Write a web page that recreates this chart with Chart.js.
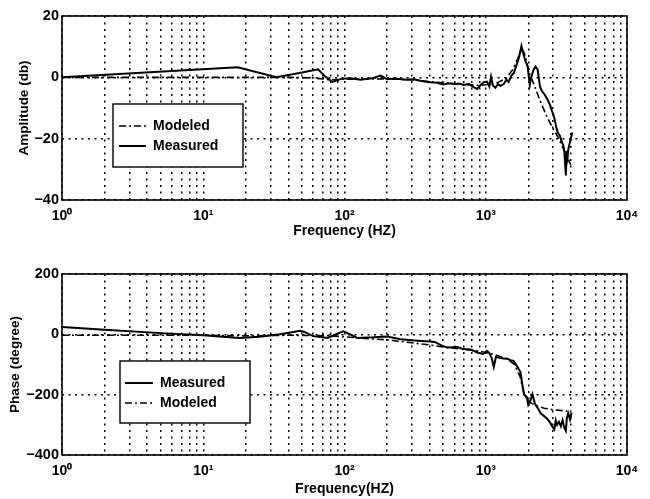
<!DOCTYPE html>
<html>
<head>
<meta charset="utf-8">
<script src="https://cdn.jsdelivr.net/npm/chart.js@4.4.0/dist/chart.umd.min.js"></script>
<style>
	body { margin: 0; background: #fff; }
	#wrap { position: relative; width: 650px; height: 499px; }
	canvas { position: absolute; left: 0; }
</style>
</head>
<body>
<div id="wrap">
	<canvas id="amp" width="650" height="250" style="top: 0"></canvas>
	<canvas id="phase" width="650" height="249" style="top: 250px"></canvas>
</div>
<script>
// x ticks: every 1..9 step of each decade (grid), labels only on powers of ten
const xTickValues = [1, 2, 3, 4, 5, 6, 7, 8, 9, 10, 20, 30, 40, 50, 60, 70, 80, 90,
	100, 200, 300, 400, 500, 600, 700, 800, 900, 1000, 2000, 3000, 4000, 5000, 6000, 7000, 8000, 9000, 10000];
const ampTicks = [-40, -20, 0, 20];
const phaseTicks = [-400, -200, 0, 200];

// amplitude (db)
const ampMeasuredFreq = [1, 17.5, 33, 50, 65, 72, 82, 95, 110, 130, 160, 180, 200, 230, 270, 310, 350, 400, 450, 500,
	550, 600, 650, 700, 760, 820, 870, 920, 970, 1020, 1060, 1090, 1120, 1170, 1220, 1270, 1340, 1400, 1450, 1520,
	1580, 1650, 1720, 1790, 1850, 1920, 1980, 2050, 2100, 2180, 2250, 2330, 2420, 2500, 2600, 2720, 2850, 2960, 3050, 3150,
	3230, 3350, 3450, 3530, 3600, 3690, 3740, 3800, 3840, 3950, 4100];
const ampMeasured = [0, 3.3, 0, 1.6, 2.6, 0.5, -1.5, -0.5, -0.3, -0.8, -0.2, 0.6, -0.6, -0.4, -0.8, -0.6, -1.2, -1.6, -1.8, -2.3,
	-1.9, -2.2, -2.0, -2.5, -2.1, -3.2, -3.8, -2.5, -1.6, -1.4, -3, 0.2, -2.6, -3.4, -2.2, -2.8, -2.2, -0.8, -1.5, 0.6,
	1.4, 4, 6.5, 10.2, 7.5, 5, 3.5, -2.5, 0, 2.5, 3.5, 2.5, -3, -4.5, -5.5, -7, -9, -11.3, -13, -16,
	-18, -19, -21, -22, -24, -32, -24, -26, -23.5, -21, -18];
const ampModeledFreq = [1, 40, 60, 80, 100, 200, 300, 500, 700, 900, 1000, 1200, 1400, 1550, 1700, 1800, 1870, 1950, 2050, 2200,
	2440, 2720, 2960, 3270, 3600, 4000];
const ampModeled = [0, 0, -0.2, -0.8, -0.6, -0.5, -0.8, -1.8, -2.4, -2.6, -2.4, -1.8, -0.3, 2.5, 6.5, 9.3, 8, 5, 1, -2.4,
	-8, -13, -16.3, -19.7, -24, -28.5];

// phase (degree)
const phaseMeasuredFreq = [1, 2, 5, 10, 18, 25, 35, 48.7, 52, 60, 70, 76, 85, 98, 110, 123, 160, 200, 250, 300,
	350, 405, 440, 480, 535, 630, 695, 780, 870, 960, 1020, 1060, 1100, 1140, 1180, 1250, 1330, 1430, 1500, 1570,
	1680, 1760, 1820, 1870, 1950, 2000, 2070, 2140, 2230, 2320, 2450, 2600, 2720, 2850, 2960, 3060, 3130, 3200, 3300, 3400,
	3500, 3600, 3690, 3750, 3840, 3950, 4050];
const phaseMeasured = [24, 15, 4, -3, -12, -8, 0, 12, 8, -6, -10, -12, -2, 10, 0, -12, -10, -7, -16, -20,
	-22, -24, -26, -36, -44, -42, -49, -50, -60, -65, -55, -62, -78, -108, -75, -78, -80, -81, -86, -88,
	-108, -125, -169, -200, -207, -234, -220, -198, -230, -242, -262, -272, -280, -292, -305, -315, -285, -300, -290, -305,
	-285, -310, -320, -278, -262, -282, -260];
const phaseModeledFreq = [1, 10, 20, 40, 60, 80, 100, 150, 200, 300, 400, 500, 700, 900, 1000, 1200, 1400, 1600, 1750, 1850,
	1950, 2100, 2300, 2600, 3000, 3500, 4000];
const phaseModeled = [-3, -3, -5, -3, -4, -5, -8, -15, -18, -28, -35, -42, -50, -56, -60, -70, -80, -100, -140, -190,
	-215, -228, -238, -245, -250, -253, -256];

const FONT = "'Liberation Sans', Arial, Helvetica, sans-serif";
const SUP = { "0": "\u2070", "1": "\u00B9", "2": "\u00B2", "3": "\u00B3", "4": "\u2074" };
const DASHDOT = [7, 3, 2, 3];

function pairs(xs, ys) {
	return xs.map(function (x, i) { return { x: x, y: ys[i] }; });
}

function freqLabel(value) {
	var e = Math.log10(value);
	if (Math.abs(e - Math.round(e)) > 1e-6) return "";
	return "10" + SUP[String(Math.round(e))];
}

function valueLabel(v) {
	return v < 0 ? "\u2212" + Math.abs(v) : String(v);
}

// black box round the plot area, like the matlab axes
const framePlugin = {
	id: "frame",
	afterDatasetsDraw: function (chart) {
		const a = chart.chartArea;
		const ctx = chart.ctx;
		ctx.save();
		ctx.setLineDash([]);
		ctx.strokeStyle = "#000";
		ctx.lineWidth = 1.6;
		ctx.strokeRect(a.left, a.top, a.right - a.left, a.bottom - a.top);
		ctx.restore();
	}
};

// boxed legend inside the plot
const boxLegend = {
	id: "boxLegend",
	afterDraw: function (chart, args, opts) {
		const ctx = chart.ctx;
		const b = opts.box;
		ctx.save();
		ctx.fillStyle = "#fff";
		ctx.fillRect(b[0], b[1], b[2], b[3]);
		ctx.setLineDash([]);
		ctx.strokeStyle = "#000";
		ctx.lineWidth = 1.4;
		ctx.strokeRect(b[0], b[1], b[2], b[3]);
		ctx.font = "bold 14px " + FONT;
		ctx.textBaseline = "middle";
		ctx.fillStyle = "#000";
		opts.items.forEach(function (item) {
			const ds = chart.data.datasets[item.dataset];
			ctx.setLineDash(ds.borderDash || []);
			ctx.lineWidth = ds.borderWidth;
			ctx.beginPath();
			ctx.moveTo(opts.sampleX[0], item.y);
			ctx.lineTo(opts.sampleX[1], item.y);
			ctx.stroke();
			ctx.fillText(ds.label, opts.textX, item.y);
		});
		ctx.restore();
	}
};

function xAxis(titleText, height, tickPad, titlePad) {
	return {
		type: "logarithmic",
		min: 1,
		max: 10000,
		afterBuildTicks: function (scale) {
			scale.ticks = xTickValues.map(function (v) { return { value: v }; });
		},
		afterFit: function (scale) { scale.height = height; },
		grid: { color: "#000", lineWidth: 1.5, drawTicks: false },
		border: { display: false, dash: [2, 4.5] },
		ticks: {
			autoSkip: false,
			maxRotation: 0,
			padding: tickPad,
			color: "#000",
			font: { family: FONT, size: 14, weight: "bold" },
			callback: freqLabel
		},
		title: {
			display: true,
			text: titleText,
			color: "#000",
			font: { family: FONT, size: 14, weight: "bold" },
			padding: { top: 0, bottom: titlePad }
		}
	};
}

function yAxis(titleText, tickValues, titlePad) {
	return {
		min: tickValues[0],
		max: tickValues[tickValues.length - 1],
		afterBuildTicks: function (scale) {
			scale.ticks = tickValues.map(function (v) { return { value: v }; });
		},
		afterFit: function (scale) { scale.width = 62; },
		grid: { color: "#000", lineWidth: 1.5, drawTicks: false },
		border: { display: false, dash: [2, 4.5] },
		ticks: {
			padding: 3,
			color: "#000",
			font: { family: FONT, size: 14.5, weight: "bold" },
			callback: valueLabel
		},
		title: {
			display: true,
			text: titleText,
			color: "#000",
			font: { family: FONT, size: 13.5, weight: "bold" },
			padding: { top: titlePad, bottom: 0 }
		}
	};
}

function line(label, points, dash, width) {
	return {
		label: label,
		data: points,
		borderColor: "#000",
		borderWidth: width,
		borderDash: dash,
		pointRadius: 0,
		fill: false,
		tension: 0
	};
}

const ampChart = new Chart(document.getElementById("amp"), {
	type: "line",
	data: {
		datasets: [
			line("Modeled", pairs(ampModeledFreq, ampModeled), DASHDOT, 1.6),
			line("Measured", pairs(ampMeasuredFreq, ampMeasured), [], 2)
		]
	},
	options: {
		responsive: false,
		animation: false,
		devicePixelRatio: 1,
		layout: { padding: { top: 16, right: 23, bottom: 0, left: 0 } },
		scales: {
			x: xAxis("Frequency (HZ)", 50, 8, 10),
			y: yAxis("Amplitude (db)", ampTicks, 16)
		},
		plugins: {
			legend: { display: false },
			tooltip: { enabled: false },
			boxLegend: {
				box: [113, 104, 130, 63],
				sampleX: [119, 146],
				textX: 153,
				items: [{ dataset: 0, y: 126 }, { dataset: 1, y: 146 }]
			}
		}
	},
	plugins: [framePlugin, boxLegend]
});

const phaseChart = new Chart(document.getElementById("phase"), {
	type: "line",
	data: {
		datasets: [
			line("Measured", pairs(phaseMeasuredFreq, phaseMeasured), [], 2),
			line("Modeled", pairs(phaseModeledFreq, phaseModeled), DASHDOT, 1.6)
		]
	},
	options: {
		responsive: false,
		animation: false,
		devicePixelRatio: 1,
		layout: { padding: { top: 24, right: 23, bottom: 0, left: 0 } },
		scales: {
			x: xAxis("Frequency(HZ)", 44, 8, 1),
			y: yAxis("Phase (degree)", phaseTicks, 7)
		},
		plugins: {
			legend: { display: false },
			tooltip: { enabled: false },
			boxLegend: {
				box: [120, 111, 130, 62],
				sampleX: [125, 153],
				textX: 160,
				items: [{ dataset: 0, y: 133 }, { dataset: 1, y: 153 }]
			}
		}
	},
	plugins: [framePlugin, boxLegend]
});
</script>
</body>
</html>
